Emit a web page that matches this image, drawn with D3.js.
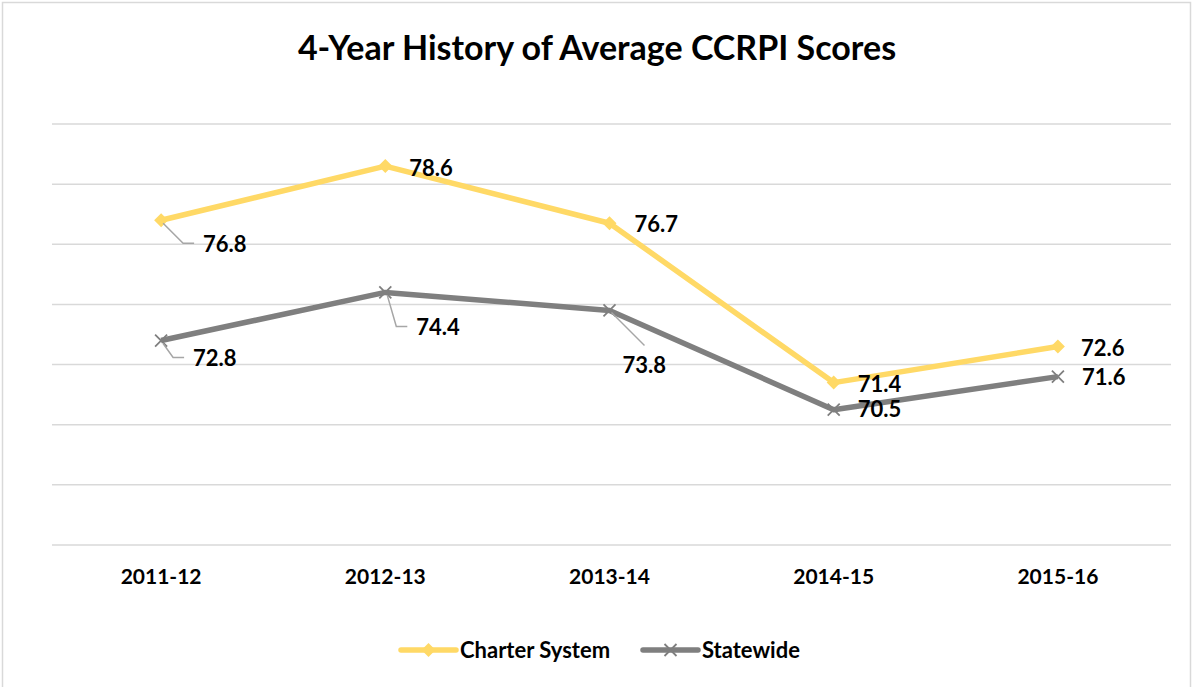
<!DOCTYPE html>
<meta charset="utf-8">
<script src="https://d3js.org/d3.v7.min.js"></script>
<style>
  body { margin: 0; background: #fff; }
  text { font-family: Lato, "Open Sans", sans-serif; font-weight: bold; fill: #000; }
</style>
<div id="chart"></div>
<script>
// data
var years = ["2011-12", "2012-13", "2013-14", "2014-15", "2015-16"];
var charter = [76.8, 78.6, 76.7, 71.4, 72.6];
var statewide = [72.8, 74.4, 73.8, 70.5, 71.6];
var yTicks = [66, 68, 70, 72, 74, 76, 78, 80];
var seriesNames = ["Charter System", "Statewide"];

// label placement (text left edge / middle relative to point), leader lines where label is pushed away
var charterLabelPos = [[42, 24, true], [24, 2], [25, 1], [24, 2], [23, 2]];
var stateLabelPos = [[32, 18, true], [31, 35, true], [13, 55, "diag"], [24, 0], [24, 1]];

var W = 1195, H = 687;
var yellow = "#FFD966", grey = "#7F7F7F";

var svg = d3.select("#chart").append("svg")
    .attr("width", W)
    .attr("height", H);

// chart border
svg.append("rect")
    .attr("x", 2.5).attr("y", 2.5)
    .attr("width", 1188).attr("height", H + 10)
    .attr("fill", "#fff")
    .attr("stroke", "#D9D9D9")
    .attr("stroke-width", 1.5);

svg.append("text")
    .attr("x", 597).attr("y", 48)
    .attr("dy", "0.35em")
    .attr("text-anchor", "middle")
    .style("font-size", "34px")
    .text("4-Year History of Average CCRPI Scores");

var x = d3.scaleBand()
    .domain(years)
    .range([49, 1170]);

var y = d3.scaleLinear()
    .domain([66, 80])
    .range([545, 124]);

// gridlines
svg.append("g")
  .selectAll("line")
  .data(yTicks)
  .enter().append("line")
    .attr("x1", 52).attr("x2", 1171)
    .attr("y1", function(d) { return y(d); })
    .attr("y2", function(d) { return y(d); })
    .attr("stroke", "#D9D9D9")
    .attr("stroke-width", 1.5);

// x axis labels
svg.append("g")
  .selectAll("text")
  .data(years)
  .enter().append("text")
    .attr("x", function(d) { return x(d) + x.bandwidth() / 2; })
    .attr("y", 577)
    .attr("dy", "0.35em")
    .attr("text-anchor", "middle")
    .style("font-size", "21px")
    .text(function(d) { return d; });

var line = d3.line()
    .x(function(d, i) { return x(years[i]) + x.bandwidth() / 2; })
    .y(function(d) { return y(d); });

function px(i) { return x(years[i]) + x.bandwidth() / 2; }

// statewide line
svg.append("path")
    .datum(statewide)
    .attr("d", line)
    .attr("fill", "none")
    .attr("stroke", grey)
    .attr("stroke-width", 5.5)
    .attr("stroke-linejoin", "round");

svg.append("g")
  .selectAll("path")
  .data(statewide)
  .enter().append("path")
    .attr("d", function(d, i) {
      var cx = px(i), cy = y(d), s = 6;
      return "M" + (cx - s) + "," + (cy - s) + "L" + (cx + s) + "," + (cy + s) +
             "M" + (cx - s) + "," + (cy + s) + "L" + (cx + s) + "," + (cy - s);
    })
    .attr("stroke", grey)
    .attr("stroke-width", 1.8)
    .attr("fill", "none");

// charter line
svg.append("path")
    .datum(charter)
    .attr("d", line)
    .attr("fill", "none")
    .attr("stroke", yellow)
    .attr("stroke-width", 5.5)
    .attr("stroke-linejoin", "round");

svg.append("g")
  .selectAll("path")
  .data(charter)
  .enter().append("path")
    .attr("d", function(d, i) {
      var cx = px(i), cy = y(d), s = 7;
      return "M" + cx + "," + (cy - s) + "L" + (cx + s) + "," + cy +
             "L" + cx + "," + (cy + s) + "L" + (cx - s) + "," + cy + "Z";
    })
    .attr("fill", yellow);

// data labels + leader lines
function drawLabels(values, pos) {
  var g = svg.append("g");
  values.forEach(function(v, i) {
    var cx = px(i), cy = y(v);
    var dx = pos[i][0], dy = pos[i][1], lead = pos[i][2];
    var tx = cx + dx, ty = cy + dy;
    if (lead === true) {
      g.append("polyline")
        .attr("points", [[cx + 2, cy + 3], [tx - 20, ty - 1], [tx - 9, ty - 1]].join(" "))
        .attr("fill", "none")
        .attr("stroke", "#A6A6A6")
        .attr("stroke-width", 1.5);
    } else if (lead === "diag") {
      g.append("line")
        .attr("x1", cx + 2).attr("y1", cy + 2)
        .attr("x2", cx + 35).attr("y2", cy + 35)
        .attr("stroke", "#A6A6A6")
        .attr("stroke-width", 1.5);
    }
    g.append("text")
      .attr("x", tx).attr("y", ty)
      .attr("dy", "0.35em")
      .style("font-size", "22px")
      .text(v.toFixed(1));
  });
}
drawLabels(charter, charterLabelPos);
drawLabels(statewide, stateLabelPos);

// legend
var legend = svg.append("g")
  .selectAll("g")
  .data(seriesNames)
  .enter().append("g")
    .attr("transform", function(d, i) { return "translate(" + (i === 0 ? 401 : 643) + ",650)"; });

legend.append("line")
    .attr("x1", 0).attr("x2", 55)
    .attr("stroke", function(d, i) { return i === 0 ? yellow : grey; })
    .attr("stroke-width", 5.5)
    .attr("stroke-linecap", "round");

legend.append("path")
    .attr("d", function(d, i) {
      return i === 0 ? "M27.5,-7L34.5,0L27.5,7L20.5,0Z" : "M21.5,-6L33.5,6M21.5,6L33.5,-6";
    })
    .attr("fill", function(d, i) { return i === 0 ? yellow : "none"; })
    .attr("stroke", function(d, i) { return i === 0 ? "none" : grey; })
    .attr("stroke-width", 1.8);

legend.append("text")
    .attr("x", 59)
    .attr("dy", "0.35em")
    .style("font-size", "22px")
    .text(function(d) { return d; });
</script>
